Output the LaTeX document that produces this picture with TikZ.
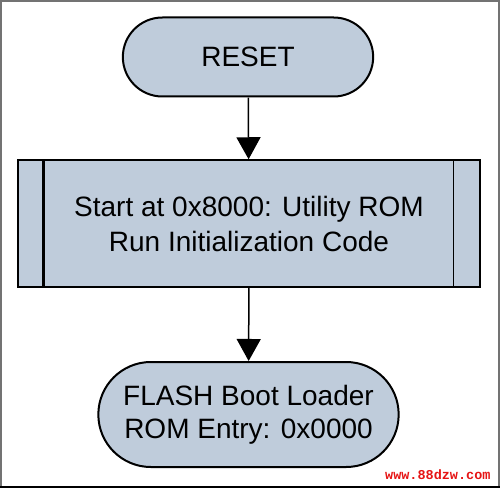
\documentclass[tikz,border=0pt]{standalone}
\usepackage{fontspec}
\setmainfont{Liberation Sans}
\newfontfamily\markfont{Liberation Mono}
\usetikzlibrary{shapes.misc,arrows.meta}
\definecolor{boxfill}{RGB}{191,204,219}
\definecolor{markred}{RGB}{230,20,20}
\tikzset{
	terminal/.style={rounded rectangle,draw,line width=2pt,fill=boxfill,align=center,font=\fontsize{28}{33}\selectfont},
	process/.style={rectangle,draw,line width=1.5pt,fill=boxfill,align=center,font=\fontsize{28}{35}\selectfont},
	flow/.style={line width=1.5pt,-{Triangle[width=24pt,length=22pt]}}
}
\begin{document}
\begin{tikzpicture}[x=1pt,y=1pt]
		% frame
		\useasboundingbox (0,0) rectangle (500,488);
		\fill[white] (0,0) rectangle (500,488);
		\draw[line width=2pt,black!55] (1,1) rectangle (499,487);
		\draw[line width=2.5pt] (0,1) -- (500,1);
		% boxes
		\node[terminal,minimum width=257pt,minimum height=79pt] (reset) at (248,431) {RESET};
		\node[process,minimum width=462pt,minimum height=127pt] (start) at (249,264.5) {Start at 0x8000: Utility ROM\\Run Initialization Code};
		\node[terminal,minimum width=307pt,minimum height=105pt] (flash) at (248.5,73.5) {FLASH Boot Loader\\ROM Entry: 0x0000};
		% side bars
		\draw[line width=2.5pt] ([xshift=26pt]start.north west) -- ([xshift=26pt]start.south west);
		\draw[line width=1.2pt] ([xshift=-27pt]start.north east) -- ([xshift=-27pt]start.south east);
		% arrows
		\draw[flow] (reset) -- (start);
		\draw[flow] (start) -- (flash);
		% annotation
		\node[anchor=south east,text=markred,font=\markfont\bfseries\fontsize{13.5}{14}\selectfont] (mark) at (494,5) {www.88dzw.com};
	\end{tikzpicture}
\end{document}
